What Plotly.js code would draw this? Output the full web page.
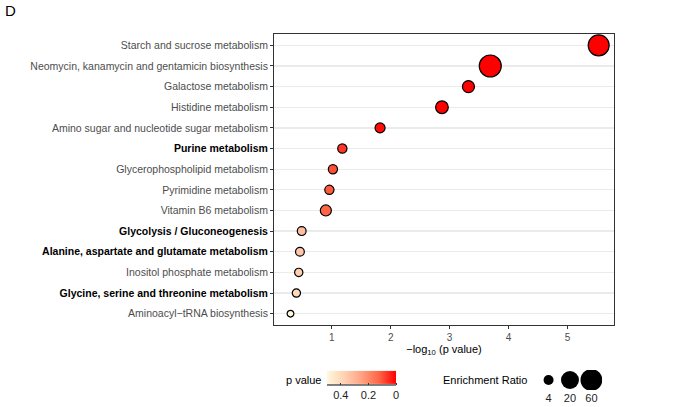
<!DOCTYPE html>
<html>
<head>
<meta charset="utf-8">
<script src="https://cdn.plot.ly/plotly-3.0.1.min.js"></script>
<style>html,body{margin:0;padding:0;background:#fff}#chart{width:697px;height:407px}</style>
</head>
<body>
<div id="chart"></div>
<script>
// Pathways (top to bottom)
const pathways = [
  "Starch and sucrose metabolism",
  "Neomycin, kanamycin and gentamicin biosynthesis",
  "Galactose metabolism",
  "Histidine metabolism",
  "Amino sugar and nucleotide sugar metabolism",
  "Purine metabolism",
  "Glycerophospholipid metabolism",
  "Pyrimidine metabolism",
  "Vitamin B6 metabolism",
  "Glycolysis / Gluconeogenesis",
  "Alanine, aspartate and glutamate metabolism",
  "Inositol phosphate metabolism",
  "Glycine, serine and threonine metabolism",
  "Aminoacyl-tRNA biosynthesis"
];
const boldPathways = [
  "Purine metabolism",
  "Glycolysis / Gluconeogenesis",
  "Alanine, aspartate and glutamate metabolism",
  "Glycine, serine and threonine metabolism"
];
// -log10(p value)
const negLogP = [5.53, 3.69, 3.32, 2.87, 1.82, 1.18, 1.02, 0.96, 0.90, 0.49, 0.46, 0.44, 0.40, 0.30];
// Enrichment ratio
const enrichment = [46, 63, 5.5, 6.2, 4, 3.6, 3.6, 3.6, 4.7, 3.4, 3.4, 3.2, 3.2, 2.7];
// legend
const sizeLegendValues = [4, 20, 60];
const pTickVals = [0.4, 0.2, 0];

const pvals = negLogP.map(v => Math.pow(10, -v));
function sizeOf(r){ return Math.sqrt(Math.max(20, 100 + 139*Math.log(r/4))); }

const tickText = pathways.map(p => {
  const label = p.replace("Aminoacyl-tRNA", "Aminoacyl\u2212tRNA");
  return boldPathways.includes(p) ? '<span style="color:#000000"><b>' + label + '</b></span>' : label;
});

const cscale = [[0,'#FFF8DC'],[0.25,'#FFD2B2'],[0.5,'#FFA383'],[0.75,'#FF6647'],[1,'#FF0000']];

const main = {
  type: 'scatter', mode: 'markers',
  x: negLogP, y: pathways,
  xaxis: 'x', yaxis: 'y',
  marker: {
    size: enrichment.map(sizeOf),
    color: pvals.map(p => -p),
    cmin: -0.5, cmax: 0,
    colorscale: cscale,
    line: {color: '#000', width: 1.2},
    opacity: 1,
    colorbar: {
      orientation: 'h',
      x: 0.156, xanchor: 'left',
      y: 0.0563, yanchor: 'middle',
      lenmode: 'pixels', len: 69,
      thickness: 13,
      outlinewidth: 0,
      tickvals: pTickVals.map(v => -v),
      ticktext: pTickVals.map(v => String(v)),
      ticks: 'outside', ticklen: 2, tickcolor: '#333',
      tickfont: {family: 'Liberation Sans, Arial', size: 11, color: '#222'},
      xpad: 0, ypad: 0
    }
  },
  showlegend: false, hoverinfo: 'x+y'
};

const sizeLegend = {
  type: 'scatter', mode: 'markers',
  x: sizeLegendValues.map(String), y: sizeLegendValues.map(() => 0),
  xaxis: 'x2', yaxis: 'y2',
  marker: {size: sizeLegendValues.map(sizeOf), color: '#000000', opacity: 1, line: {width: 0}},
  opacity: 1,
  showlegend: false, hoverinfo: 'skip'
};

const font = 'Liberation Sans, Arial, Helvetica, sans-serif';
const layout = {
  width: 697, height: 407,
  margin: {l: 274, r: 83, t: 34, b: 0},
  paper_bgcolor: '#fff', plot_bgcolor: '#fff',
  font: {family: font, size: 11, color: '#4D4D4D'},
  xaxis: {
    domain: [0, 1], anchor: 'y',
    range: [0.02, 5.79],
    tickvals: [1, 2, 3, 4, 5],
    showgrid: false, zeroline: false,
    showline: true, mirror: true, linecolor: '#333', linewidth: 1,
    ticks: 'outside', ticklen: 3, tickcolor: '#333', tickwidth: 1,
    tickfont: {size: 10, color: '#4D4D4D'},
    title: {text: '\u2212log<sub>10</sub> (p value)', font: {size: 11, color: '#000'}, standoff: 2}
  },
  yaxis: {
    domain: [0.2198, 1], anchor: 'x',
    type: 'category',
    categoryorder: 'array', categoryarray: pathways,
    range: [13.55, -0.55],
    tickvals: pathways, ticktext: tickText,
    showgrid: true, gridcolor: '#EBEBEB', gridwidth: 1.3,
    zeroline: false,
    showline: true, mirror: true, linecolor: '#333', linewidth: 1,
    ticks: 'outside', ticklen: 3, tickcolor: '#333', tickwidth: 1,
    tickfont: {size: 10.5, color: '#4D4D4D'}
  },
  xaxis2: {
    domain: [0.776, 0.965], anchor: 'y2',
    type: 'category', range: [-0.5, 2.5],
    showgrid: false, zeroline: false, showline: false, ticks: '',
    tickfont: {size: 11, color: '#222'}
  },
  yaxis2: {
    domain: [0.0456, 0.0992], anchor: 'x2',
    range: [-1, 1],
    showgrid: false, zeroline: false, showline: false, showticklabels: false, ticks: ''
  },
  annotations: [
    {text: 'D', xref: 'paper', yref: 'paper', x: -0.797, y: 1.064, xanchor: 'left', yanchor: 'middle', showarrow: false, font: {size: 15, color: '#000'}},
    {text: 'p value', xref: 'paper', yref: 'paper', x: 0.029, y: 0.0724, xanchor: 'left', yanchor: 'middle', showarrow: false, font: {size: 11, color: '#000'}},
    {text: 'Enrichment Ratio', xref: 'paper', yref: 'paper', x: 0.491, y: 0.0724, xanchor: 'left', yanchor: 'middle', showarrow: false, font: {size: 11, color: '#000'}}
  ],
  shapes: [
    {type: 'line', xref: 'paper', yref: 'paper', x0: 0.156, x1: 0.359, y0: 0.059, y1: 0.059, line: {color: '#000', width: 1}}
  ]
};

Plotly.newPlot('chart', [main, sizeLegend], layout, {displayModeBar: false, staticPlot: true});
</script>
</body>
</html>
